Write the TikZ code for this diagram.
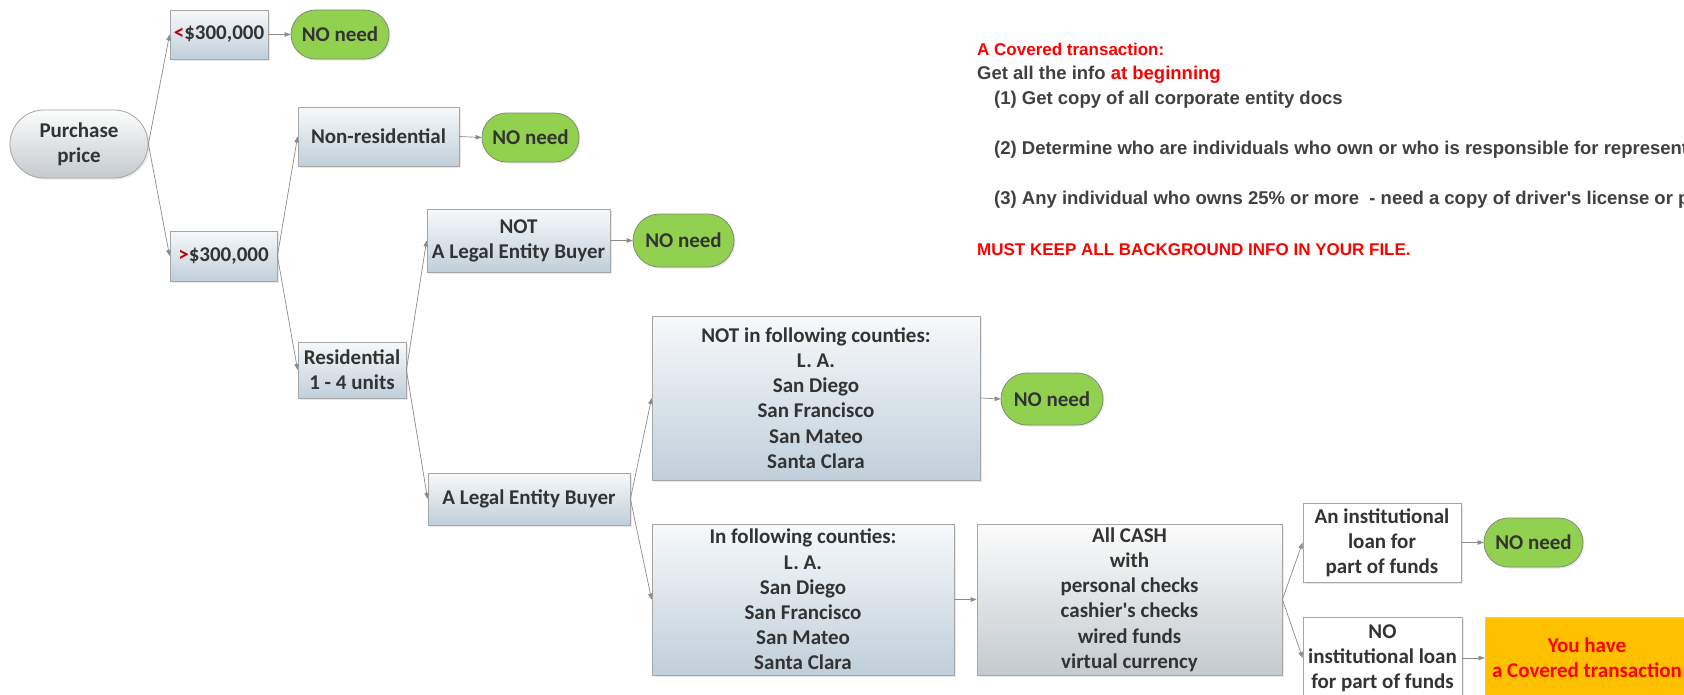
\documentclass[tikz,border=0pt]{standalone}
\usepackage{fontspec}
\setmainfont{Carlito}
\newfontfamily\notefont{Liberation Sans}
\usepackage{xcolor}
\definecolor{boxtext}{HTML}{333333}
\definecolor{boxline}{HTML}{A6A6A6}
\definecolor{boxtop}{HTML}{F7F9FB}
\definecolor{boxbot}{HTML}{C0CFDA}
\definecolor{greytop}{HTML}{FCFCFC}
\definecolor{greybot}{HTML}{C4CACF}
\definecolor{nogreen}{HTML}{92D050}
\definecolor{pillline}{HTML}{7F8C74}
\definecolor{coveredfill}{HTML}{FFC000}
\definecolor{linkgrey}{HTML}{8C8C8C}
\definecolor{signred}{HTML}{C00000}
\definecolor{notered}{HTML}{FF0000}
\definecolor{notegrey}{HTML}{404040}
\usepackage{tikz}
\usetikzlibrary{shapes.misc,arrows.meta,shadows}

\begin{document}
\begin{tikzpicture}[x=1pt,y=-1pt,
    base/.style={draw=boxline, line width=0.8pt, inner sep=0pt, align=center, text=boxtext,
      font=\fontsize{21}{25.2}\selectfont\bfseries,
      drop shadow={opacity=0.18, shadow xshift=1.5pt, shadow yshift=-1.5pt}},
    choice/.style={base, rectangle, top color=boxtop, bottom color=boxbot},
    plainbox/.style={base, rectangle, fill=white},
    startpill/.style={base, rounded rectangle, top color=greytop, bottom color=greybot},
    endpill/.style={base, rounded rectangle, fill=nogreen, draw=pillline},
    link/.style={draw=linkgrey, line width=0.7pt, -{Triangle[length=6pt,width=4.5pt]}},
    note/.style={anchor=west, inner sep=0pt, text=notegrey, font=\notefont\fontsize{18.5}{22}\selectfont\bfseries},
    rednote/.style={note, text=notered, font=\notefont\fontsize{17}{21}\selectfont\bfseries}]
  \useasboundingbox[fill=white] (0,0) rectangle (1684,694);
  % Price split
  \node[startpill, minimum width=138, minimum height=68] (price) at (79,144) {Purchase\\price};
  \node[choice, minimum width=98, minimum height=49] (lt) at (219,34.5) {\textcolor{signred}{<}\$300,000};
  \node[endpill, minimum width=98, minimum height=49] (no1) at (340,34.5) {NO need};
  \node[choice, minimum width=107, minimum height=50] (gt) at (223.5,256) {\textcolor{signred}{>}\$300,000};
  % Property type
  \node[choice, minimum width=161, minimum height=59] (nonres) at (378.5,136.5) {Non-residential};
  \node[endpill, minimum width=97, minimum height=49] (no2) at (530.5,137.5) {NO need};
  \node[choice, minimum width=108, minimum height=56] (res) at (352,370) {Residential\\1 - 4 units};
  % Buyer type
  \node[choice, minimum width=183, minimum height=63] (notleb) at (518.5,240.5) {NOT\\A Legal Entity Buyer};
  \node[endpill, minimum width=101, minimum height=53] (no3) at (683.5,240.5) {NO need};
  \node[choice, minimum width=202, minimum height=52] (leb) at (529,499) {A Legal Entity Buyer};
  % Counties
  \node[choice, minimum width=328, minimum height=164] (notin) at (816,398) {NOT in following counties:\\L. A.\\San Diego\\San Francisco\\San Mateo\\Santa Clara};
  \node[endpill, minimum width=102, minimum height=52] (no4) at (1052,399) {NO need};
  \node[choice, minimum width=302, minimum height=151] (in) at (803,599.5) {In following counties:\\L. A.\\San Diego\\San Francisco\\San Mateo\\Santa Clara};
  % Payment
  \node[startpill, rectangle, minimum width=305, minimum height=151] (cash) at (1129.5,599.5) {All CASH\\with\\personal checks\\cashier\textquotesingle s checks\\wired funds\\virtual currency};
  \node[plainbox, minimum width=158, minimum height=79] (loan) at (1382,542.5) {An institutional\\loan for\\part of funds};
  \node[endpill, minimum width=99, minimum height=49] (no5) at (1533.5,542.5) {NO need};
  \node[plainbox, minimum width=159, minimum height=82] (noloan) at (1382.5,658) {NO\\institutional loan\\for part of funds};
  \node[base, rectangle, fill=coveredfill, draw=boxline!60, text=notered, minimum width=204, minimum height=82] (covered) at (1587,658) {You have\\a Covered transaction};
  % Connectors
  \draw[link] (price.east) -- (lt.west);
  \draw[link] (price.east) -- (gt.west);
  \draw[link] (lt.east) -- (no1.west);
  \draw[link] (gt.east) -- (nonres.west);
  \draw[link] (gt.east) -- (res.west);
  \draw[link] (nonres.east) -- (no2.west);
  \draw[link] (res.east) -- (notleb.west);
  \draw[link] (res.east) -- (leb.west);
  \draw[link] (notleb.east) -- (no3.west);
  \draw[link] (leb.east) -- (notin.west);
  \draw[link] (leb.east) -- (in.west);
  \draw[link] (notin.east) -- (no4.west);
  \draw[link] (in.east) -- (cash.west);
  \draw[link] (cash.east) -- (loan.west);
  \draw[link] (cash.east) -- (noloan.west);
  \draw[link] (loan.east) -- (no5.west);
  \draw[link] (noloan.east) -- (covered.west);
  % Notes
  \node[rednote] (covhead) at (977,49.5) {A Covered transaction:};
  \node[note] (getinfo) at (977,75) {Get all the info \textcolor{notered}{at beginning}};
  \node[note] (stepone) at (994,100) {(1) Get copy of all corporate entity docs};
  \node[note] (steptwo) at (994,149.5) {(2) Determine who are individuals who own or who is responsible for representat};
  \node[note] (stepthree) at (994,200) {(3) Any individual who owns 25\% or more\ \ - need a copy of driver\textquotesingle s license or p};
  \node[rednote] (keepall) at (977,249.5) {MUST KEEP ALL BACKGROUND INFO IN YOUR FILE.};
\end{tikzpicture}
\end{document}
